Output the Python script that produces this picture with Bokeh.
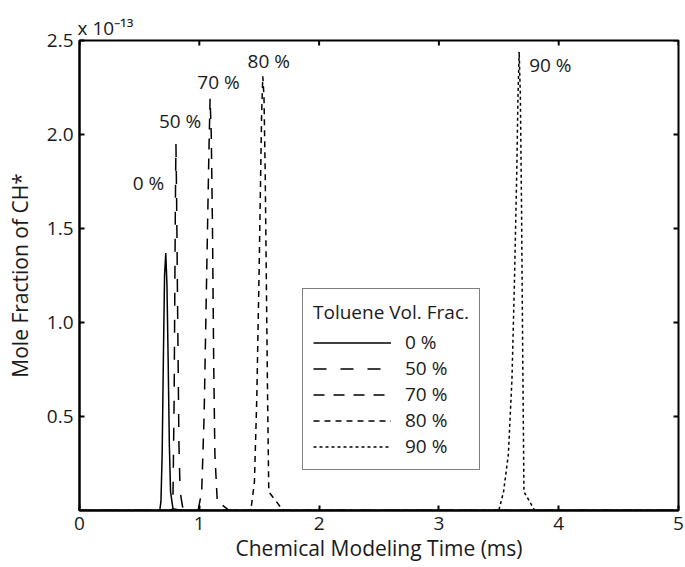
import math
from bokeh.plotting import figure
from bokeh.models import (FixedTicker, Range1d, Label, Legend, LegendItem, NumeralTickFormatter)
from bokeh.embed import file_html
from bokeh.resources import INLINE

# CH* mole fraction (units of 1e-13) vs chemical modeling time (ms)
t_0 = [0.0, 0.60, 0.67, 0.68, 0.69, 0.70, 0.71, 0.72, 0.73, 0.74, 0.75, 0.76, 0.78, 0.85, 5.0]
y_0 = [0.0, 0.0, 0.0, 0.05, 0.30, 0.80, 1.25, 1.37, 1.20, 0.80, 0.35, 0.10, 0.01, 0.0, 0.0]

t_50 = [0.0, 0.70, 0.77, 0.78, 0.79, 0.80, 0.805, 0.81, 0.82, 0.83, 0.84, 0.86, 0.90, 5.0]
y_50 = [0.0, 0.0, 0.0, 0.05, 0.60, 1.60, 1.95, 1.70, 1.00, 0.35, 0.10, 0.02, 0.0, 0.0]

t_70 = [0.0, 0.90, 0.99, 1.02, 1.04, 1.06, 1.08, 1.09, 1.10, 1.11, 1.12, 1.13, 1.15, 1.25, 5.0]
y_70 = [0.0, 0.0, 0.0, 0.10, 0.50, 1.20, 1.90, 2.19, 2.00, 1.50, 0.80, 0.30, 0.05, 0.0, 0.0]

t_80 = [0.0, 1.30, 1.43, 1.46, 1.48, 1.50, 1.52, 1.53, 1.54, 1.55, 1.56, 1.57, 1.58, 1.70, 5.0]
y_80 = [0.0, 0.0, 0.0, 0.15, 0.60, 1.30, 2.10, 2.31, 2.20, 1.80, 1.20, 0.60, 0.10, 0.0, 0.0]

t_90 = [0.0, 3.40, 3.50, 3.54, 3.58, 3.61, 3.63, 3.65, 3.66, 3.67, 3.68, 3.69, 3.70, 3.71, 3.80, 5.0]
y_90 = [0.0, 0.0, 0.0, 0.10, 0.30, 0.70, 1.20, 1.80, 2.20, 2.44, 2.20, 1.60, 0.80, 0.10, 0.0, 0.0]

series_labels = ["0 %", "50 %", "70 %", "80 %", "90 %"]
x_ticks = [0, 1, 2, 3, 4, 5]
y_ticks = [0.5, 1.0, 1.5, 2.0, 2.5]
x_min, x_max = 0, 5
y_min, y_max = 0, 2.5

# label anchor positions (data coords)
lab_x = [0.575, 0.84, 1.16, 1.58, 3.93]
lab_y = [1.74, 2.07, 2.28, 2.39, 2.37]

FONT = "Open Sans"
TXT = "#1a1a1a"
FS = "19px"

p = figure(width=685, height=567, output_backend="svg", toolbar_location=None,
           x_range=Range1d(x_min, x_max), y_range=Range1d(y_min, y_max),
           min_border_left=79, min_border_right=7, min_border_top=40, min_border_bottom=57,
           x_axis_label="Chemical Modeling Time (ms)", y_axis_label="Mole Fraction of CH*",
           title="x 10\u207b\u00b9\u00b3")
p.title.text_font = FONT
p.title.text_font_size = FS
p.title.text_font_style = "normal"
p.title.text_color = TXT
p.title.align = "left"
p.title.offset = -2
p.title.standoff = 0
p.grid.visible = False
p.outline_line_color = "black"
p.outline_line_width = 2

dashes = ["solid", "13 14", "11 9", "6 5", "3 3"]
ts = [t_0, t_50, t_70, t_80, t_90]
ys = [y_0, y_50, y_70, y_80, y_90]
renderers = []
for t, y, d in zip(ts, ys, dashes):
    r = p.line(t, y, line_color="black", line_width=1.5, line_dash=d)
    renderers.append(r)

for xa in p.xaxis:
    xa.ticker = FixedTicker(ticks=x_ticks)
for ya in p.yaxis:
    ya.ticker = FixedTicker(ticks=y_ticks)
    ya.formatter = NumeralTickFormatter(format="0.0")

for ax in p.xaxis + p.yaxis:
    ax.major_tick_in = 5
    ax.major_tick_out = 0
    ax.minor_tick_line_color = None
    ax.axis_line_width = 2
    ax.major_tick_line_width = 2
    ax.major_label_text_font = FONT
    ax.major_label_text_font_size = FS
    ax.major_label_text_color = TXT
    ax.axis_label_text_font = FONT
    ax.axis_label_text_font_size = "21px"
    ax.axis_label_text_font_style = "normal"
    ax.axis_label_text_color = TXT
p.xaxis.major_label_standoff = 6
p.yaxis.major_label_standoff = 6
p.xaxis.axis_label_standoff = 1
p.yaxis.axis_label_standoff = 10

# mirrored inward ticks on top and right edges
p.ray(x=x_ticks, y=[y_max] * len(x_ticks), length=5, length_units="screen",
      angle=-math.pi / 2, line_color="black", line_width=2)
p.ray(x=[x_max] * len(y_ticks), y=y_ticks, length=5, length_units="screen",
      angle=math.pi, line_color="black", line_width=2)

for txt, lx, ly in zip(series_labels, lab_x, lab_y):
    p.add_layout(Label(x=lx, y=ly, text=txt, text_align="center", text_baseline="middle",
                       text_font=FONT, text_font_size=FS, text_color=TXT))

legend = Legend(items=[LegendItem(label=l, renderers=[r]) for l, r in zip(series_labels, renderers)],
                location=(223, 40), title="Toluene Vol. Frac.",
                title_text_font=FONT, title_text_font_size=FS, title_text_font_style="normal",
                title_text_color=TXT, title_standoff=4,
                label_text_font=FONT, label_text_font_size=FS, label_text_color=TXT,
                glyph_width=78, glyph_height=21, label_height=21, label_standoff=14,
                spacing=0, padding=10, margin=0,
                border_line_color="black", border_line_width=1.5, background_fill_alpha=1)
p.add_layout(legend, "center")

open("out.html", "w").write(file_html(p, INLINE))
